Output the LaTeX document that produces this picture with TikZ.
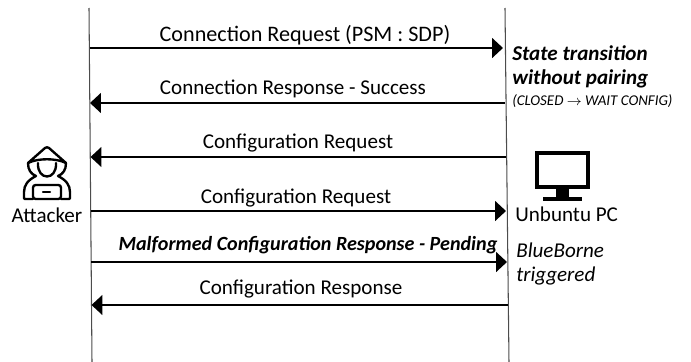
\documentclass[tikz,border=0pt]{standalone}
\usepackage{fontspec}
\setmainfont{Carlito}
\usepackage{tikz}
\usetikzlibrary{arrows.meta}
\tikzset{
    lifeline/.style={draw=black!70,semithick},
    msg/.style={line width=0.95pt,-{Triangle[length=6.2pt,width=11.3pt]}},
    msgtext/.style={font=\fontsize{12}{14}\selectfont,inner sep=0pt},
    icon/.style={line width=1.35pt,line join=round,line cap=round},
}
\begin{document}
\begin{tikzpicture}[x=0.02cm,y=-0.02cm]
                \useasboundingbox (0,0) rectangle (691,362);

                \coordinate (attTop) at (89,8);
                \coordinate (attBot) at (92,362);
                \coordinate (pcTop) at (505,8);
                \coordinate (pcBot) at (509,362);
                \draw[lifeline] (attTop) -- (attBot);
                \draw[lifeline] (pcTop) -- (pcBot);

                \coordinate (a1) at (89.5,48);
                \coordinate (b1) at (503,48);
                \coordinate (a2) at (90,103);
                \coordinate (b2) at (505,103);
                \coordinate (a3) at (90.5,157);
                \coordinate (b3) at (506,157);
                \coordinate (a4) at (91,211);
                \coordinate (b4) at (506,211);
                \coordinate (a5) at (91,262);
                \coordinate (b5) at (507,262);
                \coordinate (a6) at (91.5,305);
                \coordinate (b6) at (508,305);

                \draw[msg] (a1) -- (b1);
                \draw[msg] (b2) -- (a2);
                \draw[msg] (b3) -- (a3);
                \draw[msg] (a4) -- (b4);
                \draw[msg] (a5) -- (b5);
                \draw[msg] (b6) -- (a6);

                \node[msgtext,font=\fontsize{12.6}{14}\selectfont] (m1) at (305,35) {Connection Request (PSM : SDP)};
                \node[msgtext] (m2) at (293,89) {Connection Response - Success};
                \node[msgtext] (m3) at (298,143) {Configuration Request};
                \node[msgtext] (m4) at (296,198) {Configuration Request};
                \node[msgtext,font=\fontsize{11.45}{14}\selectfont] (m5) at (308,245) {\textbf{\textit{Malformed Configuration Response - Pending}}};
                \node[msgtext] (m6) at (301,289) {Configuration Response};

                \node[msgtext,anchor=west] (state1) at (512,53) {\textbf{\textit{State transition}}};
                \node[msgtext,anchor=west] (state2) at (512,79) {\textbf{\textit{without pairing}}};
                \node[inner sep=0pt,anchor=west,font=\fontsize{8.5}{10}\selectfont] (state3) at (512,101) {\textit{(CLOSED $\rightarrow$ WAIT CONFIG)}};

                \node[msgtext] (attacker) at (47,215) {Attacker};
                \node[msgtext,anchor=west] (pc) at (515,214) {Unbuntu PC};
                \node[msgtext,anchor=west] (blue1) at (516,250) {\textit{BlueBorne}};
                \node[msgtext,anchor=west] (blue2) at (516,276) {\textit{triggered}};

                % monitor
                \draw[line width=2.4pt] (537,153) rectangle (588,187);
                \fill (556,188) rectangle (569,198);
                \fill (543,197) rectangle (582,201);

                % hacker
                \draw[icon] (28,163) -- (45,148) .. controls (46.5,147) and (47.5,147) .. (49,148) -- (66,163) .. controls (56,158) and (38,158) .. (28,163) -- cycle;
                \draw[icon] (38,163) .. controls (37,181) and (57,181) .. (56,163);
                \draw[icon] (28,163) .. controls (28,170) and (31,174) .. (36,176) .. controls (28,180) and (24,185) .. (24,192) -- (24,198) .. controls (24,199) and (25,199) .. (26,199) -- (33,199);
                \draw[icon] (66,163) .. controls (66,170) and (63,174) .. (58,176) .. controls (66,180) and (70,185) .. (70,192) -- (70,198) .. controls (70,199) and (69,199) .. (68,199) -- (61,199);
                \draw[icon,rounded corners=1.5pt] (33,185) rectangle (61,199);
                \draw[icon] (43,192) -- (50,192);
            \end{tikzpicture}
\end{document}
